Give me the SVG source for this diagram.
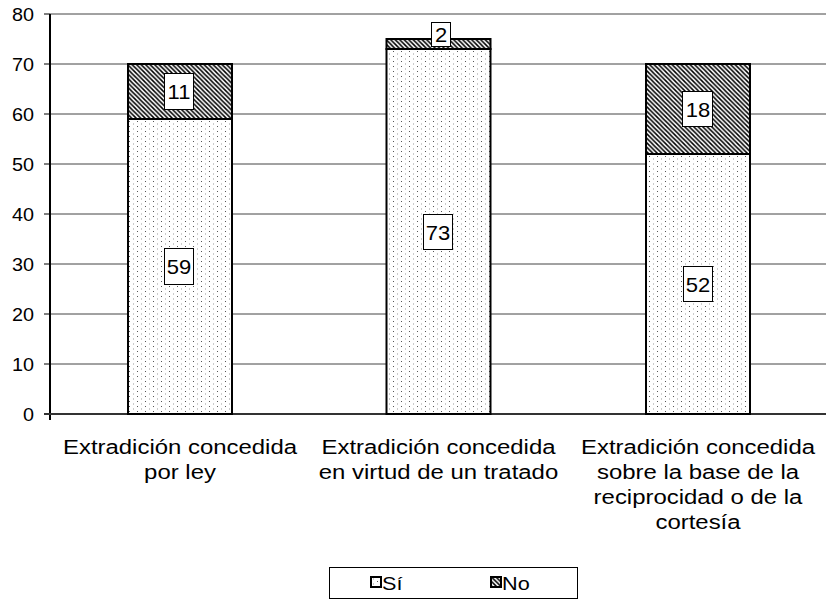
<svg xmlns="http://www.w3.org/2000/svg" width="826" height="600" viewBox="0 0 826 600">
<defs>
<pattern id="dots" width="8" height="5" patternUnits="userSpaceOnUse">
<rect width="8" height="5" fill="#fff"/>
<rect x="1" y="1" width="1" height="1" fill="#555"/>
<rect x="5" y="3.5" width="1" height="1" fill="#999"/>
</pattern>
<pattern id="hatch" width="4.5" height="4.5" patternUnits="userSpaceOnUse">
<rect width="4.5" height="4.5" fill="#fff"/>
<path d="M-1,-1 L5.5,5.5 M2.5,-2 L6.5,2 M-2,2.5 L2,6.5" stroke="#000" stroke-width="1.5"/>
</pattern>
</defs>
<style>
text{font-family:"Liberation Sans",Arial,sans-serif;fill:#000}
.tick{font-size:18px;text-anchor:end}
.cat{font-size:21px;text-anchor:middle}
.val{font-size:20px;text-anchor:middle}
.grid{stroke:#444;stroke-width:1}
.bar{stroke:#000;stroke-width:2}
.lbl{fill:#fff;stroke:#000;stroke-width:1}
.leg{font-size:19px}
</style>
<rect width="826" height="600" fill="#fff"/>
<g id="grid">
<line class="grid" x1="50" y1="14" x2="826" y2="14" stroke="#888"/>
<line class="grid" x1="50" y1="64" x2="826" y2="64"/>
<line class="grid" x1="50" y1="114" x2="826" y2="114"/>
<line class="grid" x1="50" y1="164" x2="826" y2="164"/>
<line class="grid" x1="50" y1="214" x2="826" y2="214"/>
<line class="grid" x1="50" y1="264" x2="826" y2="264"/>
<line class="grid" x1="50" y1="314" x2="826" y2="314"/>
<line class="grid" x1="50" y1="364" x2="826" y2="364"/>
</g>
<g id="axis">
<line x1="50" y1="14" x2="50" y2="420" stroke="#000" stroke-width="2"/>
<line x1="44" y1="414" x2="826" y2="414" stroke="#333" stroke-width="2"/>
<g stroke="#000" stroke-width="1">
<line x1="44" y1="14" x2="50" y2="14"/><line x1="44" y1="64" x2="50" y2="64"/><line x1="44" y1="114" x2="50" y2="114"/><line x1="44" y1="164" x2="50" y2="164"/><line x1="44" y1="214" x2="50" y2="214"/><line x1="44" y1="264" x2="50" y2="264"/><line x1="44" y1="314" x2="50" y2="314"/><line x1="44" y1="364" x2="50" y2="364"/>
</g>
<text class="tick" transform="translate(34,20.5) scale(1.1,1)">80</text>
<text class="tick" transform="translate(34,70.5) scale(1.1,1)">70</text>
<text class="tick" transform="translate(34,120.5) scale(1.1,1)">60</text>
<text class="tick" transform="translate(34,170.5) scale(1.1,1)">50</text>
<text class="tick" transform="translate(34,220.5) scale(1.1,1)">40</text>
<text class="tick" transform="translate(34,270.5) scale(1.1,1)">30</text>
<text class="tick" transform="translate(34,320.5) scale(1.1,1)">20</text>
<text class="tick" transform="translate(34,370.5) scale(1.1,1)">10</text>
<text class="tick" transform="translate(34,420.5) scale(1.1,1)">0</text>
</g>
<g id="bar1">
<rect class="bar" x="128" y="119" width="104" height="295" fill="url(#dots)"/>
<rect class="bar" x="128" y="64" width="104" height="55" fill="url(#hatch)"/>
<rect class="lbl" x="164.5" y="73.5" width="29" height="36"/>
<text class="val" transform="translate(179,98.5) scale(1.1,1)">11</text>
<rect class="lbl" x="164.5" y="248.5" width="29" height="36"/>
<text class="val" transform="translate(179,273.5) scale(1.1,1)">59</text>
</g>
<g id="bar2">
<rect class="bar" x="386.5" y="49" width="104" height="365" fill="url(#dots)"/>
<rect class="bar" x="386.5" y="39" width="104" height="10" fill="url(#hatch)"/>
<rect class="lbl" x="431.5" y="22.5" width="19" height="24"/>
<text class="val" transform="translate(441,41.5) scale(1.1,1)">2</text>
<rect class="lbl" x="423.5" y="214.5" width="29" height="35"/>
<text class="val" transform="translate(438,239.5) scale(1.1,1)">73</text>
</g>
<g id="bar3">
<rect class="bar" x="646" y="154" width="104" height="260" fill="url(#dots)"/>
<rect class="bar" x="646" y="64" width="104" height="90" fill="url(#hatch)"/>
<rect class="lbl" x="682.5" y="91.5" width="30" height="35"/>
<text class="val" transform="translate(698,116.5) scale(1.1,1)">18</text>
<rect class="lbl" x="683.5" y="266.5" width="29" height="35"/>
<text class="val" transform="translate(698,291.5) scale(1.1,1)">52</text>
</g>
<g id="labels">
<text class="cat" transform="translate(180,454) scale(1.14,1)">Extradición concedida</text>
<text class="cat" transform="translate(180,479) scale(1.14,1)">por ley</text>
<text class="cat" transform="translate(438.5,454) scale(1.14,1)">Extradición concedida</text>
<text class="cat" transform="translate(438.5,479) scale(1.14,1)">en virtud de un tratado</text>
<text class="cat" transform="translate(698,454) scale(1.14,1)">Extradición concedida</text>
<text class="cat" transform="translate(698,479) scale(1.14,1)">sobre la base de la</text>
<text class="cat" transform="translate(698,504) scale(1.14,1)">reciprocidad o de la</text>
<text class="cat" transform="translate(698,529) scale(1.14,1)">cortesía</text>
</g>
<g id="legend">
<rect x="329.5" y="567.5" width="248" height="31" fill="#fff" stroke="#000" stroke-width="1"/>
<rect x="371" y="577" width="10" height="10" fill="url(#dots)" stroke="#000" stroke-width="2"/>
<text class="leg" transform="translate(382,589.5) scale(1.14,1)">Sí</text>
<rect x="491" y="577" width="10" height="10" fill="url(#hatch)" stroke="#000" stroke-width="2"/>
<text class="leg" transform="translate(502,589.5) scale(1.14,1)">No</text>
</g>
</svg>
